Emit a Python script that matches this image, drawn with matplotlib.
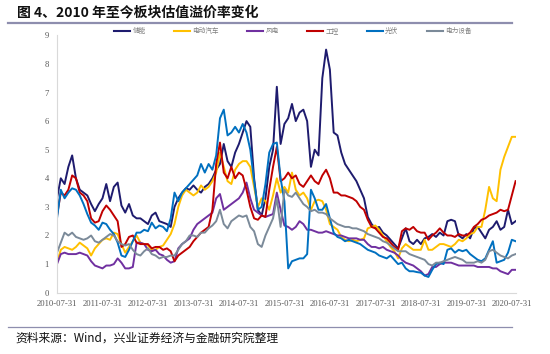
import matplotlib
matplotlib.use('Agg')
import matplotlib.pyplot as plt
from matplotlib.lines import Line2D

# ---------------- data (monthly, 2010-07 .. 2020-08) ----------------
series_names = ['储能', '电动汽车', '风电', '工控', '光伏', '电力设备']

energy_storage = [3.3, 4.0, 3.8, 4.4, 4.8, 4.0, 3.6, 3.5, 3.4, 3.1, 2.85, 3.1,
                  3.3, 3.8, 3.2, 3.7, 3.85, 3.05, 2.8, 3.1, 2.7, 2.6, 2.6, 2.5,
                  2.4, 2.7, 2.8, 2.5, 2.45, 2.4, 2.3, 3.0, 3.3, 3.5, 3.65, 3.6,
                  3.75, 3.6, 3.5, 3.7, 3.8, 4.0, 4.3, 4.5, 5.2, 4.6, 4.4, 4.9,
                  5.2, 5.6, 6.0, 5.8, 4.0, 2.9, 2.7, 3.3, 4.4, 5.0, 7.2, 5.2,
                  5.9, 6.1, 6.6, 6.0, 6.3, 6.4, 6.0, 4.4, 5.0, 4.8, 7.5, 8.5,
                  7.8, 5.6, 5.5, 4.9, 4.5, 4.3, 4.1, 3.9, 3.6, 3.3, 2.65, 2.4,
                  2.25, 2.3, 2.1, 2.0, 1.85, 1.7, 1.55, 1.9, 2.25, 1.8, 1.7, 1.85,
                  1.7, 1.9, 1.95, 2.05, 1.95, 2.1, 2.0, 2.5, 2.55, 2.5, 2.0, 1.9,
                  2.05, 1.9, 2.25, 2.3, 2.1, 1.9, 2.2, 2.3, 2.5, 2.2, 2.3, 2.9,
                  2.4, 2.5]

electric_vehicle = [1.05, 1.5, 1.6, 1.55, 1.5, 1.6, 1.75, 1.65, 1.55, 1.3, 1.55, 1.7,
                    1.85, 1.9, 1.85, 2.1, 2.05, 1.7, 1.4, 1.6, 1.8, 2.0, 1.75, 1.7,
                    1.65, 1.5, 1.5, 1.6, 1.65, 1.85, 2.05, 2.4, 3.0, 3.4, 3.6, 3.5,
                    3.4, 3.5, 3.75, 3.6, 3.7, 3.9, 4.2, 4.9, 4.4, 3.9, 3.8, 4.3,
                    4.5, 4.6, 4.6, 4.4, 3.7, 3.0, 3.3, 3.2, 2.9, 3.4, 4.0, 3.5,
                    3.7, 3.5, 4.2, 3.6, 3.4, 3.5, 3.3, 2.9, 3.2, 3.25, 3.2, 2.9,
                    2.4, 2.3, 2.2, 1.95, 1.85, 1.8, 1.85, 1.8, 1.85, 1.9, 2.25, 2.3,
                    2.35, 2.2, 2.0, 1.8, 1.6, 1.45, 1.2, 1.55, 1.7, 1.6, 1.5, 1.5,
                    1.5, 1.85, 1.5, 1.5, 1.6, 1.7, 1.7, 1.65, 1.6, 1.7, 1.85, 1.8,
                    1.9, 2.05, 2.1, 2.3, 2.3, 2.9, 3.7, 3.3, 3.2, 4.3, 4.75, 5.1,
                    5.45, 5.45]

wind_power = [1.0, 1.35, 1.4, 1.35, 1.35, 1.35, 1.4, 1.35, 1.3, 1.1, 0.95, 0.9,
              0.85, 0.95, 0.95, 1.0, 1.2, 1.05, 0.85, 0.85, 0.9, 1.75, 1.75, 1.7,
              1.5, 1.45, 1.5, 1.35, 1.3, 1.15, 1.05, 1.1, 1.55, 1.7, 1.8, 1.9,
              2.2, 2.4, 2.5, 2.6, 2.7, 2.8, 3.3, 3.45, 2.9, 3.0, 3.1, 3.2,
              3.3, 3.5, 3.85, 3.3, 2.9, 2.8, 2.7, 2.65, 2.7, 2.75, 3.5, 2.9,
              2.35, 2.3, 2.2, 2.3, 2.5, 2.4, 2.2, 2.2, 2.15, 2.1, 2.1, 2.15,
              2.1, 2.05, 2.0, 2.0, 1.95, 1.9, 1.9, 1.9, 1.85, 1.85, 1.7, 1.6,
              1.6, 1.55, 1.6, 1.5, 1.45, 1.4, 1.3, 1.15, 1.05, 1.0, 0.95, 0.85,
              0.75, 0.6, 0.65, 0.9, 0.9, 1.0, 1.05, 1.05, 1.05, 1.0, 0.95, 0.95,
              0.95, 0.95, 0.95, 0.9, 0.9, 0.9, 0.9, 0.85, 0.85, 0.75, 0.7, 0.65,
              0.8, 0.8]

industrial_control = [2.7, 3.5, 3.4, 3.6, 4.1, 4.0, 3.5, 3.4, 3.2, 2.6, 2.45, 2.5,
                      2.85, 3.05, 2.9, 2.7, 2.5, 1.6, 1.7, 1.95, 2.0, 1.75, 1.7, 1.7,
                      1.7, 1.55, 1.6, 1.6, 1.5, 1.55, 1.45, 1.1, 1.3, 1.4, 1.5, 1.6,
                      1.8, 1.95, 2.1, 2.2, 2.3, 2.9, 4.5, 5.25, 4.2, 4.0, 4.4, 4.0,
                      4.2, 4.1, 3.6, 3.0, 2.6, 2.55, 2.7, 2.65, 3.6, 4.4, 5.1, 3.9,
                      4.0, 4.2, 4.0, 4.1, 3.8, 3.7, 3.9, 4.1, 3.9, 3.8, 4.1, 4.3,
                      4.0, 3.5, 3.5, 3.4, 3.4, 3.35, 3.3, 3.2, 3.0, 2.9, 2.55, 2.3,
                      2.25, 2.1, 1.95, 1.9, 1.75, 1.6, 1.5, 2.15, 2.25, 2.2, 2.3, 2.15,
                      2.1, 2.1, 1.85, 2.0, 2.1, 2.25, 2.1, 2.0, 2.0, 1.95, 2.05, 2.0,
                      2.0, 2.1, 2.3, 2.4, 2.55, 2.6, 2.7, 2.75, 2.8, 2.9, 2.85, 2.9,
                      3.4, 3.9]

photovoltaic = [2.6, 3.6, 3.3, 3.5, 3.65, 3.6, 3.4, 3.1, 2.75, 2.45, 2.35, 2.2,
                2.45, 2.4, 2.2, 2.05, 1.75, 1.3, 1.25, 1.5, 1.8, 2.1, 2.1, 2.2,
                2.15, 2.45, 2.25, 2.35, 2.3, 2.15, 2.6, 3.5, 3.2, 3.5, 3.65, 3.8,
                3.95, 4.1, 4.5, 4.2, 4.5, 4.3, 4.8, 6.1, 6.4, 5.5, 5.6, 5.8,
                5.6, 5.9, 5.6, 5.0, 3.9, 2.9, 3.0, 3.8, 4.9, 5.2, 5.25, 4.0,
                3.2, 0.85, 1.1, 1.15, 1.2, 1.2, 1.35, 3.6, 3.3, 2.9, 2.9, 3.1,
                2.6, 2.1, 1.95, 1.9, 1.8, 1.85, 1.8, 1.75, 1.7, 1.6, 1.5, 1.45,
                1.4, 1.3, 1.25, 1.2, 1.3, 1.15, 1.0, 1.05, 0.85, 0.75, 0.75, 0.72,
                0.7, 0.6, 0.55, 0.8, 1.0, 1.05, 1.0, 1.5, 1.55, 1.4, 1.5, 1.45,
                1.5, 1.35, 1.25, 1.15, 1.1, 1.2, 1.5, 1.8, 1.05, 1.1, 1.15, 1.4,
                1.85, 1.8]

power_equipment = [1.4, 1.75, 2.1, 2.0, 2.1, 1.95, 1.9, 1.85, 1.9, 2.0, 1.8, 1.75,
                   1.85, 1.95, 2.05, 2.0, 1.8, 1.7, 1.65, 1.7, 1.5, 1.35, 1.3, 1.45,
                   1.55, 1.35, 1.3, 1.2, 1.25, 1.25, 1.3, 1.3, 1.5, 1.7, 1.8, 2.0,
                   2.0, 1.95, 2.1, 2.1, 2.25, 2.35, 2.5, 2.9, 2.4, 2.25, 2.5, 2.6,
                   2.7, 2.65, 2.7, 2.3, 2.15, 1.7, 1.6, 2.0, 2.3, 2.6, 3.3, 2.3,
                   3.6, 3.4, 3.35, 3.5, 3.3, 3.1, 3.0, 2.85, 2.9, 2.8, 2.8, 2.75,
                   2.6, 2.5, 2.4, 2.35, 2.3, 2.3, 2.25, 2.25, 2.2, 2.15, 2.05, 2.0,
                   1.95, 1.9, 1.8, 1.75, 1.65, 1.55, 1.45, 1.45, 1.45, 1.35, 1.3, 1.25,
                   1.2, 1.15, 1.0, 0.95, 1.05, 1.05, 1.1, 1.15, 1.2, 1.25, 1.2, 1.15,
                   1.05, 1.05, 1.05, 1.1, 1.05, 1.15, 1.45, 1.5, 1.4, 1.3, 1.25, 1.2,
                   1.3, 1.35]

tick_labels = ['2010-07-31', '2011-07-31', '2012-07-31', '2013-07-31', '2014-07-31',
               '2015-07-31', '2016-07-31', '2017-07-31', '2018-07-31', '2019-07-31',
               '2020-07-31']
tick_positions = [0, 12, 24, 36, 48, 60, 72, 84, 96, 108, 120]
y_ticks = [0, 1, 2, 3, 4, 5, 6, 7, 8, 9]

title_text = '图 4、2010 年至今板块估值溢价率变化'
source_text = '资料来源：Wind，兴业证券经济与金融研究院整理'

colors = ['#1E1B6E', '#FFC000', '#7030A0', '#C00000', '#0070C0', '#7B8A99']
all_series = [energy_storage, electric_vehicle, wind_power,
              industrial_control, photovoltaic, power_equipment]

CJK = ['Noto Sans CJK SC', 'DejaVu Sans']
SERIF = ['Liberation Serif', 'DejaVu Serif']

W, H = 550, 354
fig = plt.figure(figsize=(W / 100, H / 100), dpi=100)
ax = fig.add_axes([57 / W, 1 - 292.7 / H, (515.6 - 57) / W, (292.7 - 35.3) / H])

for vals, name, col in zip(all_series, series_names, colors):
    ax.plot(range(len(vals)), vals, color=col, lw=1.4, label=name,
            solid_joinstyle='round')

ax.set_xlim(0, 121)
ax.set_ylim(0, 9)
ax.set_xticks(tick_positions)
ax.set_xticklabels(tick_labels, fontfamily=SERIF, fontsize=6.2, color='#595959')
ax.set_yticks(y_ticks)
ax.set_yticklabels([str(v) for v in y_ticks], fontfamily=SERIF, fontsize=6.2,
                   color='#595959')
ax.tick_params(axis='both', length=0)
ax.tick_params(axis='x', pad=5)
ax.tick_params(axis='y', pad=6)
for s in ['top', 'right']:
    ax.spines[s].set_visible(False)
for s in ['left', 'bottom']:
    ax.spines[s].set_color('#D9D9D9')
    ax.spines[s].set_linewidth(0.8)

leg = fig.legend(loc='center', bbox_to_anchor=(293 / W, 1 - 31 / H), ncol=6,
                 frameon=False, prop={'family': CJK, 'size': 4.8},
                 handlelength=2.4, columnspacing=4.3, handletextpad=0.3)
for t in leg.get_texts():
    t.set_color('#7F7F7F')
for h in leg.get_lines():
    h.set_linewidth(1.5)

fig.text(17 / W, 1 - 12.5 / H, title_text, fontsize=10, fontweight='bold',
         family=CJK, va='center', ha='left', color='#111111')
fig.add_artist(Line2D([8 / W, 512 / W], [1 - 23 / H, 1 - 23 / H],
                      color='#8E8EAE', lw=1.6))
fig.add_artist(Line2D([8 / W, 512 / W], [1 - 327 / H, 1 - 327 / H],
                      color='#8E8EAE', lw=0.9))
fig.text(15 / W, 1 - 338.5 / H, source_text, fontsize=8.5, family=CJK,
         va='center', ha='left', color='#111111')

fig.savefig('out.png', dpi=100)
